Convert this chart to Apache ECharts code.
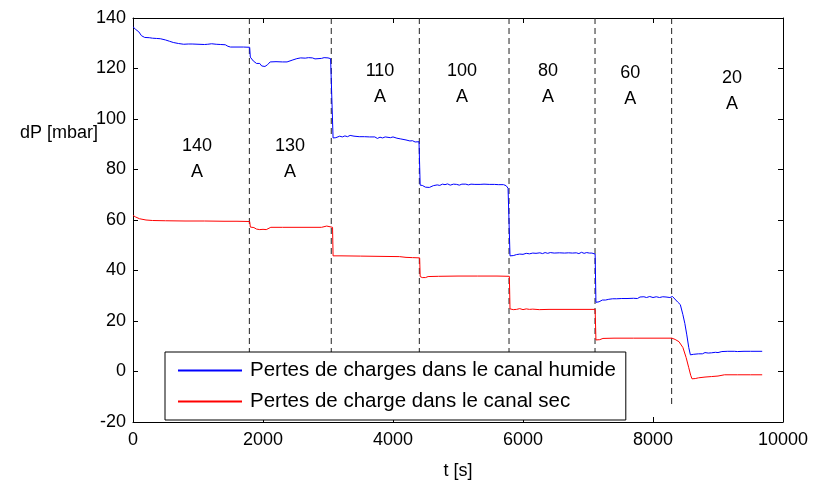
<!DOCTYPE html>
<html>
<head>
<meta charset="utf-8">
<script src="https://cdn.jsdelivr.net/npm/echarts@6/dist/echarts.min.js"></script>
<style>html,body{margin:0;padding:0;background:#fff}#c{width:816px;height:485px}</style>
</head>
<body>
<div id="c"></div>
<script>
const xTicks = [0, 2000, 4000, 6000, 8000, 10000];
const yTicks = [-20, 0, 20, 40, 60, 80, 100, 120, 140];
const humideName = 'Pertes de charges dans le canal humide';
const secName = 'Pertes de charge dans le canal sec';
const humide = [
[0,136.5],[40,135.5],[90,134.5],[130,133],[180,132.3],[250,132.2],[300,132.0],[330,132.6],[360,131.9],[420,131.8],[500,131.3],[560,130.8],[620,130.3],[700,129.9],[780,129.6],[850,129.7],[880,129.2],[910,129.7],[1000,129.6],[1100,129.5],[1150,129.6],[1180,129.1],[1210,129.8],[1240,129.2],[1280,129.6],[1350,129.5],[1420,129.4],[1460,128.8],[1500,128.5],[1600,128.5],[1700,128.5],[1795,128.4],
[1805,124.5],[1850,123.0],[1900,122.0],[1930,121.5],[1950,122.0],[1980,121.0],[2030,120.8],[2070,121.5],[2110,122.6],[2200,122.7],[2300,122.6],[2330,122.1],[2370,122.6],[2460,123.4],[2520,123.9],[2580,124.2],[2650,124.1],[2700,124.3],[2760,124.2],[2800,123.8],[2830,124.3],[2900,124.0],[2940,124.3],[3000,124.2],[3040,123.9],[3060,124.3],[3070,124.0],
[3078,92.5],[3120,92.6],[3180,93.2],[3220,92.9],[3260,93.3],[3300,93.0],[3340,93.5],[3400,93.2],[3480,93.0],[3560,93.0],[3640,92.9],[3720,92.9],[3760,92.3],[3800,92.8],[3840,92.5],[3880,92.9],[3960,92.6],[4000,92.9],[4060,92.4],[4120,92.1],[4200,91.7],[4260,91.3],[4300,91.4],[4340,90.9],[4400,91.0],[4410,90.5],
[4418,73.8],[4450,73.7],[4500,73.0],[4560,72.9],[4620,73.6],[4680,73.9],[4720,73.7],[4760,74.2],[4800,74.0],[4840,74.3],[4880,73.8],[4930,74.2],[4980,74.1],[5020,73.8],[5060,74.2],[5090,73.8],[5120,74.2],[5160,73.9],[5200,74.2],[5260,74.1],[5340,74.1],[5400,74.2],[5480,74.1],[5560,74.1],[5620,74.0],[5700,74.0],[5740,73.6],[5770,72.6],[5790,72.0],
[5800,45.8],[5850,45.9],[5900,46.3],[5950,46.5],[6000,46.4],[6050,46.8],[6100,46.6],[6150,46.9],[6200,46.8],[6260,47.0],[6300,46.7],[6340,47.1],[6380,46.8],[6420,47.1],[6480,46.9],[6560,47.0],[6640,46.9],[6700,47.0],[6760,46.9],[6820,47.0],[6860,46.7],[6900,47.2],[6940,46.8],[6980,47.1],[7020,46.9],[7060,46.9],[7090,46.3],[7110,46.5],
[7122,27.4],[7170,27.6],[7220,28.3],[7270,28.3],[7320,28.6],[7380,28.8],[7440,28.8],[7520,28.9],[7600,28.9],[7700,29.0],[7760,28.9],[7800,29.5],[7830,29.1],[7860,29.6],[7900,29.3],[7950,29.7],[8000,29.3],[8050,29.6],[8100,29.3],[8150,29.6],[8200,29.5],[8260,29.3],[8300,29.7],[8330,29.0],[8380,27.5],[8420,26.5],[8460,22.5],[8490,19.0],[8520,14.5],[8550,9.5],[8575,6.6],[8620,6.8],[8700,7.0],[8760,7.0],[8800,7.5],[8850,7.3],[8900,7.4],[8960,7.6],[9000,7.5],[9060,7.9],[9150,8.0],[9250,8.0],[9300,7.9],[9400,8.0],[9500,8.0],[9600,8.0],[9680,8.0]
];
const sec = [
[0,61.8],[40,61.2],[100,60.5],[200,60.0],[300,59.8],[500,59.7],[800,59.6],[1100,59.6],[1400,59.5],[1600,59.5],[1795,59.4],
[1805,57.2],[1860,57.0],[1900,56.4],[1950,56.2],[2000,56.3],[2050,56.2],[2080,56.8],[2120,57.1],[2300,57.1],[2600,57.1],[2900,57.1],[2980,57.6],[3000,57.2],[3070,57.1],
[3078,45.8],[3200,45.8],[3500,45.7],[3800,45.6],[4100,45.5],[4200,45.2],[4300,45.1],[4410,45.0],
[4418,37.6],[4450,37.2],[4500,37.2],[4540,37.6],[4700,37.7],[5000,37.8],[5300,37.8],[5600,37.8],[5790,37.7],
[5800,24.8],[5850,24.5],[5900,24.6],[5950,24.9],[6000,24.5],[6050,24.8],[6100,24.6],[6150,24.7],[6250,24.5],[6400,24.6],[6600,24.6],[6800,24.6],[7000,24.6],[7110,24.6],
[7122,12.5],[7180,12.6],[7230,13.1],[7400,13.2],[7700,13.2],[8000,13.2],[8290,13.2],[8340,12.7],[8400,11.8],[8460,9.5],[8510,5.5],[8550,1.5],[8580,-1.5],[8600,-2.9],[8650,-2.8],[8700,-2.5],[8800,-2.2],[8900,-2.0],[9000,-1.8],[9100,-1.3],[9300,-1.3],[9500,-1.3],[9680,-1.3]
];
const stepTimes = [1790, 3050, 4405, 5785, 7108, 8287];
const stepTop = 140;
const stepBottom = -14;
const currentText = ['140', '130', '110', '100', '80', '60', '20'];
const currentX = [985, 2415, 3800, 5060, 6385, 7650, 9215];
const currentY = [84, 84, 114, 114, 114, 113, 111];

const FONT = 'Arial, "Liberation Sans", sans-serif';
const FS = 18;
const chart = echarts.init(document.getElementById('c'), null, {renderer: 'canvas'});

const stepSeries = stepTimes.map(t => ({
  type: 'line', data: [[t, stepTop], [t, stepBottom]], symbol: 'none', silent: true,
  lineStyle: {color: '#222', width: 1, type: [6, 4]}, z: 1, animation: false
}));

const axisCommon = {
  type: 'value', min: 0, max: 10000, interval: 2000,
  axisLine: {show: true, onZero: false, lineStyle: {color: '#000', width: 1}},
  axisTick: {show: true, inside: true, length: 5, lineStyle: {color: '#000'}},
  splitLine: {show: false}
};
const yCommon = {
  type: 'value', min: -20, max: 140, interval: 20,
  axisLine: {show: true, onZero: false, lineStyle: {color: '#000', width: 1}},
  axisTick: {show: true, inside: true, length: 5, lineStyle: {color: '#000'}},
  splitLine: {show: false}
};

chart.setOption({
  animation: false,
  backgroundColor: '#fff',
  grid: {left: 133, right: 33, top: 18, bottom: 58, containLabel: false},
  xAxis: [
    Object.assign({}, axisCommon, {position: 'bottom',
      axisLabel: {color: '#000', fontFamily: FONT, fontSize: FS, margin: 9,
        formatter: v => xTicks.includes(v) ? String(v) : ''},
      name: 't [s]', nameLocation: 'middle', nameGap: 40,
      nameTextStyle: {color: '#000', fontFamily: FONT, fontSize: FS}}),
    Object.assign({}, axisCommon, {position: 'top', axisLabel: {show: false}})
  ],
  yAxis: [
    Object.assign({}, yCommon, {position: 'left',
      axisLabel: {color: '#000', fontFamily: FONT, fontSize: FS, margin: 7,
        formatter: v => yTicks.includes(v) ? String(v) : ''}}),
    Object.assign({}, yCommon, {position: 'right', axisLabel: {show: false}})
  ],
  graphic: [{type: 'text', left: 20, top: 124,
    style: {text: 'dP [mbar]', fill: '#000', font: FS + 'px ' + FONT}}],
  legend: {
    data: [humideName, secName], orient: 'vertical', left: 165, top: 352,
    backgroundColor: '#fff', borderColor: '#000', borderWidth: 1, borderRadius: 0,
    padding: [8, 10, 8, 13], itemGap: 10, itemWidth: 64, itemHeight: 2, icon: 'rect',
    textStyle: {color: '#000', fontFamily: FONT, fontSize: 20.5, padding: [0, 0, 0, 3]},
    z: 10
  },
  series: [
    ...stepSeries,
    {name: humideName, type: 'line', data: humide, symbol: 'none', color: '#0000ff',
      lineStyle: {color: '#0000ff', width: 1}, z: 3},
    {name: secName, type: 'line', data: sec, symbol: 'none', color: '#ff0000',
      lineStyle: {color: '#ff0000', width: 1}, z: 3},
    {type: 'scatter', symbolSize: 0, silent: true, z: 4,
      data: currentText.map((s, i) => ({value: [currentX[i], currentY[i]], name: s})),
      label: {show: true, position: 'inside', color: '#000', fontFamily: FONT, fontSize: FS,
        textBorderWidth: 0, textShadowBlur: 0, opacity: 1,
        lineHeight: 26, align: 'center', verticalAlign: 'middle',
        formatter: p => p.name + '\nA'}}
  ]
});
</script>
</body>
</html>
